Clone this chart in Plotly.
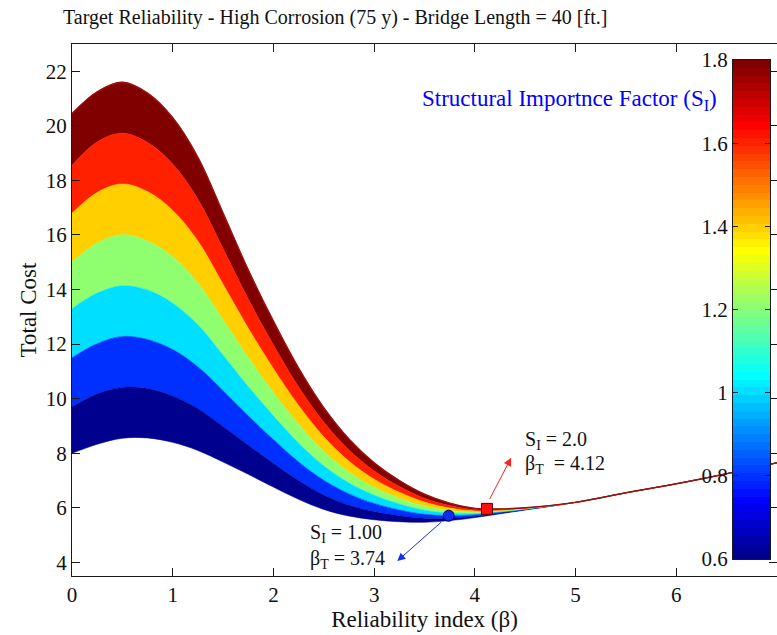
import numpy as np
import plotly.graph_objects as go

# Reliability index grid
beta = [0.0, 0.25, 0.5, 0.75, 1.0, 1.25, 1.5, 1.75, 2.0, 2.25, 2.5, 2.75, 3.0,
        3.25, 3.5, 3.75, 4.0, 4.25, 4.5, 5.0, 5.5, 6.0, 6.5, 7.0]

# Structural importance factor of each cost curve
si_levels = [0.6, 0.8, 1.0, 1.2, 1.4, 1.6, 1.8, 2.0]

# Total cost curves, one per S_I level
cost_si_06 = [8.00, 8.33, 8.55, 8.56, 8.40, 8.10, 7.68, 7.23, 6.76, 6.31, 5.94, 5.70, 5.56,
              5.49, 5.47, 5.53, 5.64, 5.78, 5.92, 6.20, 6.55, 6.88, 7.25, 7.65]
cost_si_08 = [9.70, 10.18, 10.41, 10.37, 10.10, 9.64, 8.98, 8.30, 7.63, 7.00, 6.47, 6.10, 5.86,
              5.71, 5.62, 5.62, 5.69, 5.81, 5.93, 6.20, 6.55, 6.88, 7.25, 7.65]
cost_si_10 = [11.50, 12.02, 12.28, 12.17, 11.80, 11.17, 10.29, 9.37, 8.50, 7.68, 7.01, 6.51, 6.16,
              5.92, 5.76, 5.71, 5.74, 5.83, 5.94, 6.20, 6.55, 6.88, 7.25, 7.65]
cost_si_12 = [13.30, 13.87, 14.14, 13.98, 13.50, 12.71, 11.59, 10.44, 9.37, 8.37, 7.54, 6.91, 6.46,
              6.14, 5.91, 5.80, 5.79, 5.86, 5.95, 6.20, 6.55, 6.88, 7.25, 7.65]
cost_si_14 = [15.00, 15.71, 16.01, 15.78, 15.20, 14.24, 12.89, 11.51, 10.23, 9.06, 8.07, 7.31, 6.75,
              6.35, 6.06, 5.90, 5.83, 5.88, 5.97, 6.20, 6.55, 6.88, 7.25, 7.65]
cost_si_16 = [16.80, 17.56, 17.87, 17.59, 16.90, 15.78, 14.19, 12.58, 11.10, 9.75, 8.60, 7.71, 7.05,
              6.57, 6.21, 5.99, 5.88, 5.91, 5.98, 6.20, 6.55, 6.88, 7.25, 7.65]
cost_si_18 = [18.55, 19.41, 19.73, 19.39, 18.60, 17.31, 15.50, 13.65, 11.97, 10.43, 9.14, 8.12, 7.35,
              6.78, 6.35, 6.08, 5.93, 5.93, 5.99, 6.20, 6.55, 6.88, 7.25, 7.65]
cost_si_20 = [20.45, 21.25, 21.60, 21.20, 20.30, 18.85, 16.80, 14.72, 12.84, 11.12, 9.67, 8.52, 7.65,
              7.00, 6.50, 6.17, 5.98, 5.96, 6.00, 6.20, 6.55, 6.88, 7.25, 7.65]

cost_curves = [cost_si_06, cost_si_08, cost_si_10, cost_si_12,
               cost_si_14, cost_si_16, cost_si_18, cost_si_20]

# Optimum (target) points
opt_si = [1.00, 2.0]
opt_beta = [3.74, 4.12]
opt_cost = [5.71, 5.96]

x_ticks = [0, 1, 2, 3, 4, 5, 6, 7]
y_ticks = [4, 6, 8, 10, 12, 14, 16, 18, 20, 22]
cbar_ticks = [0.6, 0.8, 1.0, 1.2, 1.4, 1.6, 1.8]
cbar_ticktext = ["0.6", "0.8", "1", "1.2", "1.4", "1.6", "1.8"]
c_min, c_max = 0.6, 1.8


def jet(m=64):
    """MATLAB style jet colormap with m entries."""
    n = int(np.ceil(m / 4))
    u = np.concatenate([np.arange(1, n + 1) / n, np.ones(n - 1), np.arange(n, 0, -1) / n])
    g = int(np.ceil(n / 2)) - (1 if m % 4 == 1 else 0) + np.arange(1, len(u) + 1)
    r = g + n
    b = g - n
    J = np.zeros((m, 3))
    rv = r[r <= m]
    J[rv - 1, 0] = u[:len(rv)]
    gv = g[g <= m]
    J[gv - 1, 1] = u[:len(gv)]
    bv = b[b >= 1]
    J[bv - 1, 2] = u[len(u) - len(bv):]
    return J


JET = jet(64)


def rgb(row):
    return "rgb(%d,%d,%d)" % tuple(int(round(v * 255)) for v in row)


def color_for(s):
    idx = int((s - c_min) / (c_max - c_min) * 64 + 1e-9)
    return rgb(JET[min(max(idx, 0), 63)])


SERIF = "Liberation Serif, Times New Roman, serif"
AX_COLOR = "#1a1a1a"
SMOOTH = 1.0

fig = go.Figure()

# Filled bands between successive S_I curves
for k, (s, c) in enumerate(zip(si_levels, cost_curves)):
    if k == 0:
        fig.add_trace(go.Scatter(
            x=beta, y=c, mode="lines",
            line=dict(color=color_for(s), width=0.6, shape="spline", smoothing=SMOOTH),
            hoverinfo="skip", showlegend=False))
    else:
        band_color = color_for(si_levels[k - 1])
        fig.add_trace(go.Scatter(
            x=beta, y=c, mode="lines", fill="tonexty", fillcolor=band_color,
            line=dict(color=band_color, width=0.6, shape="spline", smoothing=SMOOTH),
            hoverinfo="skip", showlegend=False))

# Outline of the highest S_I curve
fig.add_trace(go.Scatter(
    x=beta, y=cost_si_20, mode="lines",
    line=dict(color="#a01010", width=1.4, shape="spline", smoothing=SMOOTH),
    hoverinfo="skip", showlegend=False))

# Optimum markers
fig.add_trace(go.Scatter(
    x=[opt_beta[0]], y=[opt_cost[0]], mode="markers",
    marker=dict(symbol="circle", size=11, color="#0a2cff", line=dict(color="#000033", width=1)),
    hoverinfo="skip", showlegend=False))
fig.add_trace(go.Scatter(
    x=[opt_beta[1]], y=[opt_cost[1]], mode="markers",
    marker=dict(symbol="square", size=11, color="#ff1010", line=dict(color="#500000", width=1)),
    hoverinfo="skip", showlegend=False))

# Colour bar drawn as a heatmap in its own axes
levels = np.arange(64)
fig.add_trace(go.Heatmap(
    z=[[v] for v in levels], x=[0, 1], y=np.linspace(c_min, c_max, 65),
    colorscale=[[i / 63, rgb(JET[i])] for i in range(64)], zmin=0, zmax=63,
    showscale=False, hoverinfo="skip", xaxis="x2", yaxis="y2"))

# Arrows pointing to the optima
fig.add_annotation(x=4.36, y=7.83, ax=4.14, ay=6.27, xref="x", yref="y", axref="x", ayref="y",
                   showarrow=True, arrowhead=2, arrowsize=1.6, arrowwidth=1, arrowcolor="#ff2020", text="")
fig.add_annotation(x=3.23, y=4.05, ax=3.68, ay=5.52, xref="x", yref="y", axref="x", ayref="y",
                   showarrow=True, arrowhead=2, arrowsize=1.6, arrowwidth=1, arrowcolor="#1030ff", text="")

ann_font = dict(family=SERIF, size=20, color="#111111")
fig.add_annotation(x=4.475, y=8.48, xref="x", yref="y", xanchor="left", yanchor="middle",
                   text="S<sub>I</sub> = %.1f" % opt_si[1], showarrow=False, font=ann_font)
fig.add_annotation(x=4.475, y=7.60, xref="x", yref="y", xanchor="left", yanchor="middle",
                   text="β<sub>T</sub>  = %.2f" % opt_beta[1], showarrow=False, font=ann_font)
fig.add_annotation(x=2.347, y=5.04, xref="x", yref="y", xanchor="left", yanchor="middle",
                   text="S<sub>I</sub> = %.2f" % opt_si[0], showarrow=False, font=ann_font)
fig.add_annotation(x=2.347, y=4.09, xref="x", yref="y", xanchor="left", yanchor="middle",
                   text="β<sub>T</sub> = %.2f" % opt_beta[0], showarrow=False, font=ann_font)

# Colour bar caption
fig.add_annotation(x=(420 - 72) / 705, y=(576 - 100) / 532, xref="paper", yref="paper",
                   xanchor="left", yanchor="middle", showarrow=False,
                   text="Structural Importnce Factor (S<sub>I</sub>)",
                   font=dict(family=SERIF, size=23, color="#0000ff"))

# Title
fig.add_annotation(x=(335 - 72) / 705, y=(576 - 18) / 532, xref="paper", yref="paper",
                   xanchor="center", yanchor="middle", showarrow=False,
                   text="Target Reliability - High Corrosion (75 y) - Bridge Length = 40 [ft.]",
                   font=dict(family=SERIF, size=20, color="#111111"))

fig.update_layout(
    width=777, height=635,
    margin=dict(l=72, r=0, t=44, b=59),
    paper_bgcolor="white", plot_bgcolor="white",
    showlegend=False,
    font=dict(family=SERIF, size=19, color="#111111"),
    xaxis=dict(range=[0, 7], tickvals=x_ticks, ticks="inside", ticklen=8, tickcolor=AX_COLOR,
               showline=True, linecolor=AX_COLOR, linewidth=1, mirror="ticks",
               showgrid=False, zeroline=False, tickfont=dict(size=21),
               title=dict(text="Reliability index (β)", font=dict(size=23), standoff=4)),
    yaxis=dict(range=[3.5, 23], tickvals=y_ticks, ticks="inside", ticklen=8, tickcolor=AX_COLOR,
               showline=True, linecolor=AX_COLOR, linewidth=1, mirror="ticks",
               showgrid=False, zeroline=False, tickfont=dict(size=21),
               title=dict(text="Total Cost", font=dict(size=23), standoff=2)),
    xaxis2=dict(domain=[(733 - 72) / 705, (770 - 72) / 705], anchor="y2", range=[0, 1],
                showticklabels=False, ticks="", showline=True, linecolor=AX_COLOR, mirror=True,
                showgrid=False, zeroline=False, fixedrange=True),
    yaxis2=dict(domain=[(576 - 559) / 532, (576 - 60) / 532], anchor="x2", range=[c_min, c_max],
                side="left", tickvals=cbar_ticks, ticktext=cbar_ticktext, ticks="inside", ticklen=5,
                tickcolor=AX_COLOR, showline=True, linecolor=AX_COLOR, mirror="ticks",
                showgrid=False, zeroline=False, tickfont=dict(size=21), fixedrange=True),
)

fig.write_html("out.html")
